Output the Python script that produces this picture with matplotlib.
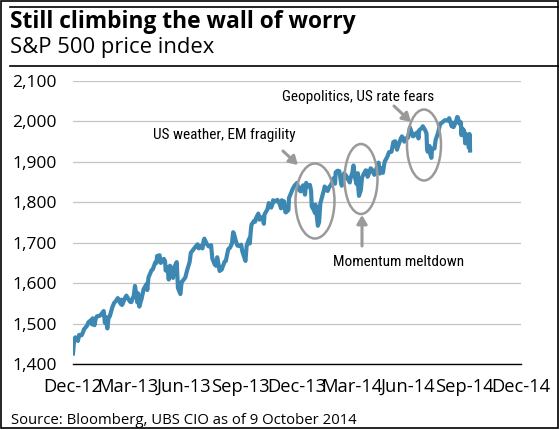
import matplotlib
matplotlib.use("Agg")
import matplotlib.pyplot as plt
from matplotlib.patches import Ellipse
from matplotlib.lines import Line2D
from matplotlib import font_manager
import pandas as pd

# ---------------- data ----------------
dates = [
    "2012-12-31",
    "2013-01-02", "2013-01-04", "2013-01-08", "2013-01-10", "2013-01-14", "2013-01-17", "2013-01-18",
    "2013-01-23", "2013-01-25", "2013-01-29", "2013-01-31", "2013-02-01", "2013-02-04", "2013-02-06",
    "2013-02-08", "2013-02-12", "2013-02-14", "2013-02-19", "2013-02-21", "2013-02-22", "2013-02-25",
    "2013-02-27", "2013-03-01", "2013-03-05", "2013-03-08", "2013-03-11", "2013-03-14", "2013-03-19",
    "2013-03-20", "2013-03-21", "2013-03-26", "2013-03-28", "2013-04-03", "2013-04-05", "2013-04-09",
    "2013-04-11", "2013-04-15", "2013-04-16", "2013-04-18", "2013-04-22", "2013-04-25", "2013-04-30",
    "2013-05-01", "2013-05-03", "2013-05-08", "2013-05-10", "2013-05-14", "2013-05-16", "2013-05-17",
    "2013-05-21", "2013-05-23", "2013-05-28", "2013-05-30", "2013-05-31", "2013-06-03", "2013-06-05",
    "2013-06-07", "2013-06-11", "2013-06-12", "2013-06-13", "2013-06-18", "2013-06-20", "2013-06-24",
    "2013-06-26", "2013-06-28", "2013-07-02", "2013-07-05", "2013-07-09", "2013-07-11", "2013-07-15",
    "2013-07-18", "2013-07-22", "2013-07-24", "2013-07-26", "2013-07-30", "2013-08-01", "2013-08-02",
    "2013-08-06", "2013-08-09", "2013-08-13", "2013-08-15", "2013-08-19", "2013-08-21", "2013-08-23",
    "2013-08-27", "2013-08-29", "2013-08-30", "2013-09-04", "2013-09-06", "2013-09-10", "2013-09-13",
    "2013-09-16", "2013-09-18", "2013-09-19", "2013-09-23", "2013-09-25", "2013-09-27", "2013-10-01",
    "2013-10-03", "2013-10-08", "2013-10-10", "2013-10-14", "2013-10-15", "2013-10-17", "2013-10-18",
    "2013-10-22", "2013-10-24", "2013-10-25", "2013-10-29", "2013-10-31", "2013-11-01", "2013-11-05",
    "2013-11-07", "2013-11-08", "2013-11-13", "2013-11-15", "2013-11-19", "2013-11-21", "2013-11-22",
    "2013-11-26", "2013-11-29", "2013-12-03", "2013-12-05", "2013-12-06", "2013-12-10", "2013-12-12",
    "2013-12-13", "2013-12-17", "2013-12-18", "2013-12-20", "2013-12-24", "2013-12-27", "2013-12-31",
    "2014-01-03", "2014-01-06", "2014-01-08", "2014-01-10", "2014-01-13", "2014-01-15", "2014-01-17",
    "2014-01-21", "2014-01-23", "2014-01-24", "2014-01-27", "2014-01-28", "2014-01-29", "2014-01-30",
    "2014-01-31", "2014-02-03", "2014-02-05", "2014-02-06", "2014-02-07", "2014-02-11", "2014-02-13",
    "2014-02-14", "2014-02-19", "2014-02-21", "2014-02-25", "2014-02-28", "2014-03-03", "2014-03-04",
    "2014-03-07", "2014-03-10", "2014-03-13", "2014-03-14", "2014-03-18", "2014-03-19", "2014-03-21",
    "2014-03-24", "2014-03-27", "2014-03-28", "2014-03-31", "2014-04-02", "2014-04-04", "2014-04-07",
    "2014-04-09", "2014-04-10", "2014-04-11", "2014-04-14", "2014-04-16", "2014-04-17", "2014-04-22",
    "2014-04-24", "2014-04-25", "2014-04-29", "2014-04-30", "2014-05-02", "2014-05-06", "2014-05-08",
    "2014-05-12", "2014-05-13", "2014-05-15", "2014-05-19", "2014-05-20", "2014-05-22", "2014-05-23",
    "2014-05-27", "2014-05-30", "2014-06-03", "2014-06-06", "2014-06-09", "2014-06-12", "2014-06-13",
    "2014-06-18", "2014-06-20", "2014-06-24", "2014-06-26", "2014-06-30", "2014-07-03", "2014-07-08",
    "2014-07-10", "2014-07-11", "2014-07-15", "2014-07-17", "2014-07-18", "2014-07-22", "2014-07-24",
    "2014-07-28", "2014-07-30", "2014-07-31", "2014-08-01", "2014-08-04", "2014-08-05", "2014-08-07",
    "2014-08-08", "2014-08-12", "2014-08-14", "2014-08-18", "2014-08-21", "2014-08-25", "2014-08-29",
    "2014-09-02", "2014-09-05", "2014-09-09", "2014-09-11", "2014-09-12", "2014-09-16", "2014-09-18",
    "2014-09-19", "2014-09-22", "2014-09-24", "2014-09-25", "2014-09-26", "2014-09-29", "2014-09-30",
    "2014-10-01", "2014-10-02", "2014-10-03", "2014-10-06", "2014-10-07", "2014-10-08", "2014-10-09",
]
values = [
    1426,
    1462, 1466, 1457, 1472, 1471, 1481, 1486,
    1495, 1503, 1508, 1498, 1513, 1496, 1512,
    1518, 1519, 1521, 1531, 1502, 1516, 1488,
    1516, 1518, 1540, 1551, 1556, 1563, 1548,
    1559, 1546, 1564, 1569, 1554, 1553, 1569,
    1593, 1552, 1575, 1542, 1563, 1585, 1598,
    1583, 1614, 1632, 1634, 1651, 1650, 1667,
    1669, 1650, 1660, 1654, 1631, 1640, 1609,
    1643, 1626, 1613, 1636, 1652, 1588, 1573,
    1603, 1606, 1614, 1632, 1652, 1675, 1683,
    1689, 1696, 1686, 1692, 1686, 1706, 1710,
    1697, 1691, 1694, 1661, 1646, 1643, 1664,
    1630, 1638, 1633, 1653, 1655, 1684, 1688,
    1698, 1726, 1723, 1701, 1693, 1692, 1695,
    1678, 1655, 1693, 1710, 1698, 1734, 1745,
    1754, 1752, 1760, 1772, 1757, 1762, 1763,
    1747, 1770, 1783, 1798, 1787, 1795, 1805,
    1802, 1806, 1795, 1785, 1805, 1802, 1776,
    1775, 1781, 1811, 1818, 1833, 1841, 1848,
    1831, 1827, 1837, 1842, 1819, 1848, 1839,
    1843, 1828, 1790, 1782, 1792, 1774, 1794,
    1783, 1742, 1751, 1773, 1797, 1820, 1830,
    1839, 1828, 1836, 1845, 1859, 1846, 1874,
    1878, 1877, 1846, 1841, 1872, 1861, 1866,
    1857, 1849, 1858, 1872, 1891, 1865, 1845,
    1872, 1833, 1816, 1830, 1862, 1865, 1879,
    1878, 1863, 1878, 1884, 1881, 1868, 1876,
    1897, 1898, 1871, 1885, 1873, 1893, 1901,
    1912, 1924, 1925, 1949, 1951, 1930, 1936,
    1957, 1963, 1950, 1958, 1960, 1985, 1963,
    1965, 1968, 1973, 1958, 1978, 1983, 1988,
    1978, 1970, 1931, 1925, 1939, 1920, 1910,
    1932, 1933, 1955, 1972, 1993, 1998, 2003,
    2002, 2008, 1988, 1997, 1986, 1999, 2011,
    2010, 1994, 1998, 1966, 1983, 1978, 1972,
    1946, 1946, 1968, 1964, 1935, 1969, 1928,
]
tick_dates = ["2012-12-31", "2013-03-31", "2013-06-30", "2013-09-30", "2013-12-31",
              "2014-03-31", "2014-06-30", "2014-09-30", "2014-12-31"]
tick_labels = ["Dec-12", "Mar-13", "Jun-13", "Sep-13", "Dec-13",
               "Mar-14", "Jun-14", "Sep-14", "Dec-14"]
y_ticks = [1400, 1500, 1600, 1700, 1800, 1900, 2000, 2100]
y_labels = ["1,400", "1,500", "1,600", "1,700", "1,800", "1,900", "2,000", "2,100"]

title = "Still climbing the wall of worry"
subtitle = "S&P 500 price index"
source = "Source: Bloomberg, UBS CIO as of 9 October 2014"
notes = ["US weather, EM fragility", "Geopolitics, US rate fears", "Momentum meltdown"]

# ---------------- fonts ----------------
avail = {f.name for f in font_manager.fontManager.ttflist}
main_font = "Open Sans" if "Open Sans" in avail else "DejaVu Sans"
narrow_font = next((f for f in ["Liberation Sans Narrow", "Roboto Condensed", "Roboto", "DejaVu Sans"]
                    if f in avail), "DejaVu Sans")
plt.rcParams["font.family"] = [main_font, "DejaVu Sans"]

W, H = 560, 430
fig = plt.figure(figsize=(W / 100, H / 100), dpi=100)


def fx(x):
    return x / W


def fy(y):
    return 1 - y / H


# frame and header lines
fig.add_artist(plt.Rectangle((fx(1), fy(428)), fx(557), 427 / H, transform=fig.transFigure,
                             fill=False, edgecolor="black", lw=1.2))
fig.add_artist(Line2D([fx(10), fx(558)], [fy(7), fy(7)], transform=fig.transFigure, color="black", lw=1.2))
fig.add_artist(Line2D([fx(10), fx(558)], [fy(66), fy(66)], transform=fig.transFigure, color="black", lw=1.2))

fig.text(fx(10), fy(28.5), title, fontsize=16.4, fontweight="bold", va="baseline", ha="left")
fig.text(fx(10), fy(53.5), subtitle, fontsize=15.8, va="baseline", ha="left")
fig.text(fx(11), fy(423.5), source, fontsize=10.7, va="baseline", ha="left")

# axes
ax = fig.add_axes([fx(73), fy(364), fx(521) - fx(73), (364 - 81) / H])
d = pd.to_datetime(dates)
ax.plot(d, values, color="#3d88b3", lw=3.0, solid_joinstyle="round", zorder=3)

ax.set_xlim(pd.Timestamp("2012-12-31"), pd.Timestamp("2014-12-31"))
ax.set_ylim(1400, 2100)
ax.set_xticks(pd.to_datetime(tick_dates))
ax.set_xticklabels(tick_labels, fontsize=13.2)
ax.set_yticks(y_ticks)
ax.set_yticklabels(y_labels, fontsize=12.5)
ax.tick_params(axis="both", length=0)
ax.tick_params(axis="y", pad=11.5)
ax.tick_params(axis="x", pad=10)
for s in ["top", "right", "left"]:
    ax.spines[s].set_visible(False)
ax.spines["bottom"].set_color("black")
ax.spines["bottom"].set_linewidth(1.0)
ax.set_axisbelow(True)
ax.yaxis.grid(True, color="#c4c4c4", lw=0.9)
ax.patch.set_alpha(0)

# annotations (figure pixel positions)
grey = "#9a9a9a"
for (cx, cy, w, h) in [(315, 201, 39, 75), (361, 179, 33, 70), (424, 145, 34, 71)]:
    fig.add_artist(Ellipse((fx(cx), fy(cy)), w / W, h / H, transform=fig.transFigure,
                           fill=False, edgecolor=grey, lw=1.8, zorder=5))

for (x0, y0, x1, y1) in [(283, 151, 298, 165), (362, 246, 362, 215), (394, 106, 411, 122)]:
    fig.add_artist(plt.Annotation("", xy=(fx(x1), fy(y1)), xytext=(fx(x0), fy(y0)),
                                  xycoords=fig.transFigure, textcoords=fig.transFigure,
                                  arrowprops=dict(arrowstyle="-|>,head_length=0.5,head_width=0.3",
                                                  color=grey, lw=2.2, shrinkA=0, shrinkB=0)))

fig.text(fx(224.5), fy(134.5), notes[0], fontsize=11, family=narrow_font, ha="center", va="center")
fig.text(fx(358), fy(97.5), notes[1], fontsize=11, family=narrow_font, ha="center", va="center")
fig.text(fx(399), fy(262.5), notes[2], fontsize=11, family=narrow_font, ha="center", va="center")

fig.savefig("out.png", dpi=100)
